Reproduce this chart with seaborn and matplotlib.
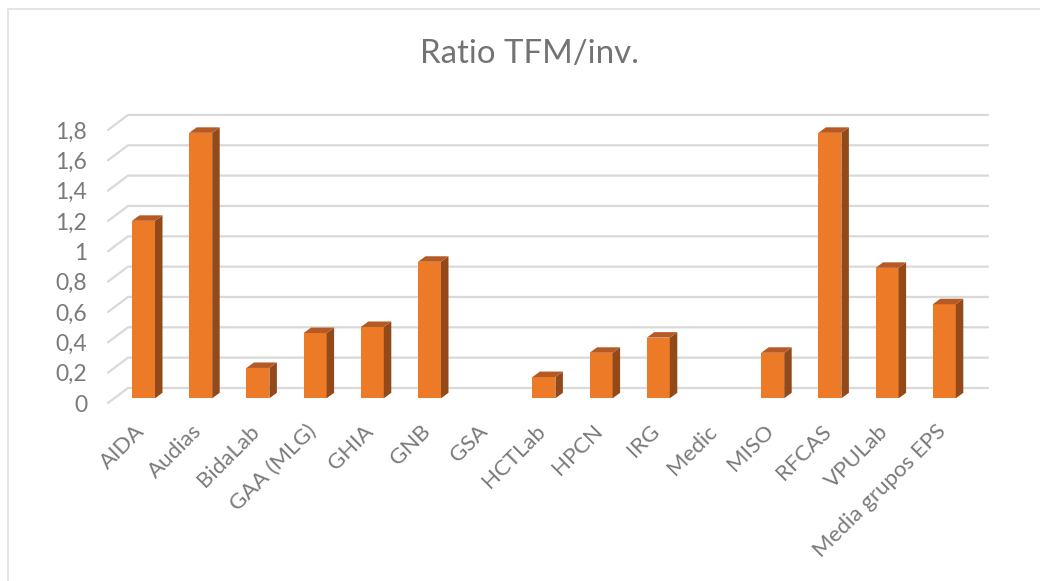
import matplotlib
matplotlib.use("Agg")
import matplotlib.pyplot as plt
import matplotlib.transforms as mtrans
from matplotlib.patches import Polygon
from matplotlib.lines import Line2D
import pandas as pd
import seaborn as sns

# ---- data ----
categories = ["AIDA", "Audias", "BidaLab", "GAA (MLG)", "GHIA", "GNB", "GSA", "HCTLab",
              "HPCN", "IRG", "Medic", "MISO", "RFCAS", "VPULab", "Media grupos EPS"]
ratios = [1.17, 1.75, 0.20, 0.43, 0.47, 0.90, 0, 0.14, 0.30, 0.40, 0, 0.30, 1.75, 0.86, 0.62]
y_ticks = [0, 0.2, 0.4, 0.6, 0.8, 1.0, 1.2, 1.4, 1.6, 1.8]
y_tick_labels = ["0", "0,2", "0,4", "0,6", "0,8", "1", "1,2", "1,4", "1,6", "1,8"]
title = "Ratio TFM/inv."

# ---- style ----
FRONT, SIDE, TOP = "#ED7A26", "#934A1B", "#B55A24"
GRID, TEXT, TITLE, FRAME = "#D9D9D9", "#7A7A7A", "#737373", "#E4E4E4"
W, H = 1040, 581
PX_X, PX_Y = 57.2, 151.7          # pixels per category, pixels per unit
X0_PX, Y0_PX = 143.5, 398.3       # pixel of first category centre, of value 0
L_PX, R_PX, T_PX, B_PX = 108, 988, 115, 403
WALL_DX, WALL_DY = 20, 15         # gridline perspective
BAR_DX, BAR_DY = 7.5, 5.5         # bar depth

sns.set_theme(style="white")
plt.rcParams["font.family"] = ["Lato", "DejaVu Sans"]

fig = plt.figure(figsize=(W / 100, H / 100), dpi=100)
ax = fig.add_axes([L_PX / W, 1 - B_PX / H, (R_PX - L_PX) / W, (B_PX - T_PX) / H])

df = pd.DataFrame({"grupo": categories, "ratio": ratios})
sns.barplot(data=df, x="grupo", y="ratio", color=FRONT, saturation=1, width=23 / PX_X,
            linewidth=0, ax=ax, zorder=3)

ax.set_xlim((L_PX - X0_PX) / PX_X, (R_PX - X0_PX) / PX_X)
ax.set_ylim((Y0_PX - B_PX) / PX_Y, (Y0_PX - T_PX) / PX_Y)
ax.set_xlabel("")
ax.set_ylabel("")
sns.despine(ax=ax, left=True, bottom=True)

# gridlines on the back wall with the slanted left-hand stub
x_front = (L_PX - X0_PX) / PX_X
x_back = (L_PX + WALL_DX - X0_PX) / PX_X
x_end = (R_PX - X0_PX) / PX_X
front_off = (B_PX - Y0_PX) / PX_Y
back_off = front_off - WALL_DY / PX_Y
for v in y_ticks:
    ax.plot([x_front, x_back, x_end], [v - front_off, v - back_off, v - back_off],
            color=GRID, lw=1.6, clip_on=False, zorder=1, solid_joinstyle="round")

# depth faces of the bars
ddx, ddy = BAR_DX / PX_X, BAR_DY / PX_Y
for bar in list(ax.patches):
    h = bar.get_height()
    if h <= 0:
        continue
    x0, x1 = bar.get_x(), bar.get_x() + bar.get_width()
    ax.add_patch(Polygon([(x1, 0), (x1 + ddx, ddy), (x1 + ddx, h + ddy), (x1, h)],
                         closed=True, fc=SIDE, ec="none", zorder=3))
    ax.add_patch(Polygon([(x0, h), (x0 + ddx, h + ddy), (x1 + ddx, h + ddy), (x1, h)],
                         closed=True, fc=TOP, ec="none", zorder=3))

# ticks
ax.set_yticks(y_ticks)
ax.set_yticklabels(y_tick_labels)
ax.tick_params(axis="y", length=0, pad=15, labelsize=16.5, labelcolor=TEXT)
down = mtrans.ScaledTranslation(0, -(B_PX - Y0_PX) / 100, fig.dpi_scale_trans)
for lab in ax.get_yticklabels():
    lab.set_transform(lab.get_transform() + down)

ax.set_xticks(range(len(categories)))
ax.set_xticklabels(categories, rotation=45, ha="right", va="top", rotation_mode="anchor")
ax.tick_params(axis="x", length=0, pad=13, labelsize=16, labelcolor=TEXT)
nudge = mtrans.ScaledTranslation(-9 / 100, 0, fig.dpi_scale_trans)
for lab in ax.get_xticklabels():
    lab.set_transform(lab.get_transform() + nudge)

fig.text(530 / W, 1 - 54 / H, title, ha="center", va="center", fontsize=23.8, color=TITLE)

# chart frame
fig.add_artist(Line2D([8 / W, 8 / W, 1], [0, 1 - 9 / H, 1 - 9 / H], color=FRAME, lw=1.5))

fig.savefig("out.png", dpi=100)
